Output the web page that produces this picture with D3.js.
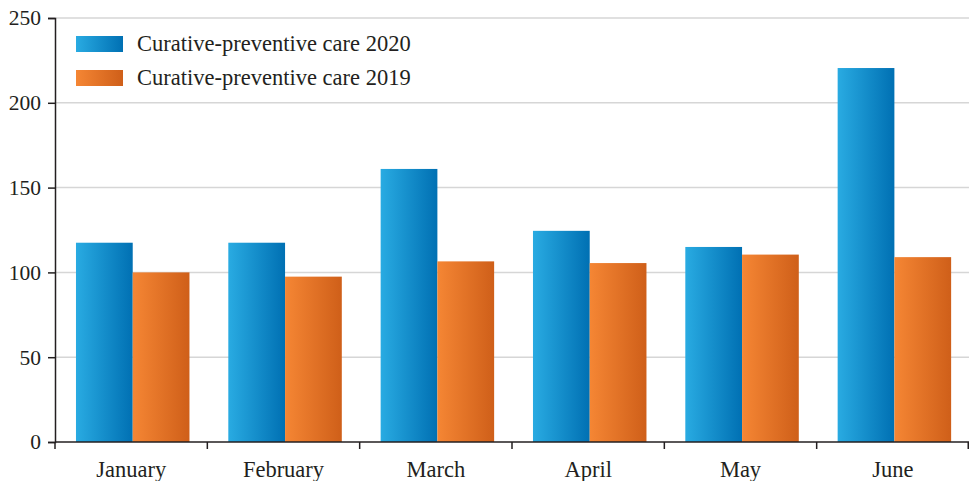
<!DOCTYPE html>
<html>
<head>
<meta charset="utf-8">
<script src="https://cdn.jsdelivr.net/npm/d3@7"></script>
<style>
  html, body { margin: 0; padding: 0; background: #fff; }
  svg { display: block; }
  text { font-family: "Liberation Serif", "DejaVu Serif", serif; fill: #231f20; }
</style>
</head>
<body>
<svg id="chart" width="970" height="481"></svg>
<script>
// Monthly counts, January–June
const months = ["January", "February", "March", "April", "May", "June"];
const care2020 = [117.5, 117.5, 161, 124.5, 115, 220.5];
const care2019 = [100, 97.5, 106.5, 105.5, 110.5, 109];
const seriesNames = ["Curative-preventive care 2020", "Curative-preventive care 2019"];
const yTicks = [0, 50, 100, 150, 200, 250];

const svg = d3.select("#chart");
const margin = { left: 55, right: 1, top: 18, bottom: 39 };
const width = 970, height = 481;
const x0 = margin.left, x1 = width - margin.right;
const yBottom = height - margin.bottom;

const y = d3.scaleLinear().domain([0, 250]).range([yBottom, margin.top]);
const x = d3.scaleBand().domain(months).range([x0, x1]).paddingInner(0.255).paddingOuter(0.1275).align(0.54);
const xs = d3.scaleBand().domain([0, 1]).range([0, x.bandwidth()]);
const step = (x1 - x0) / months.length;

// left-to-right gradients for the two series
const defs = svg.append("defs");
const grads = [
  { id: "gBlue", c0: "#29abe2", c1: "#0070b3" },
  { id: "gOrange", c0: "#f58634", c1: "#cf5f19" }
];
grads.forEach(g => {
  const lg = defs.append("linearGradient").attr("id", g.id)
    .attr("x1", "0%").attr("x2", "100%").attr("y1", "0%").attr("y2", "0%");
  lg.append("stop").attr("offset", "0%").attr("stop-color", g.c0);
  lg.append("stop").attr("offset", "100%").attr("stop-color", g.c1);
});

// gridlines
svg.append("g").selectAll("line").data(yTicks.filter(d => d > 0)).join("line")
  .attr("x1", x0).attr("x2", x1)
  .attr("y1", d => y(d)).attr("y2", d => y(d))
  .attr("stroke", "#d6d6d6").attr("stroke-width", 1.5);

// bars
const rows = months.map((m, i) => ({ m, v: [care2020[i], care2019[i]] }));
const grp = svg.append("g").selectAll("g").data(rows).join("g")
  .attr("transform", d => `translate(${x(d.m)},0)`);
grp.selectAll("rect").data(d => d.v.map((v, k) => ({ v, k }))).join("rect")
  .attr("x", d => xs(d.k))
  .attr("width", xs.bandwidth())
  .attr("y", d => y(d.v))
  .attr("height", d => yBottom - y(d.v))
  .attr("fill", d => `url(#${grads[d.k].id})`);

// y axis
const yAxis = d3.axisLeft(y).tickValues(yTicks).tickSize(7).tickPadding(7);
const gy = svg.append("g").attr("transform", `translate(${x0},0)`).call(yAxis);
gy.select(".domain").attr("stroke", "#231f20").attr("stroke-width", 1.5);
gy.selectAll(".tick line").attr("stroke", "#231f20").attr("stroke-width", 1.5);
gy.selectAll(".tick text").style("font-size", "21.5px")
  .style("font-family", "'Liberation Serif', 'DejaVu Serif', serif").attr("fill", "#231f20");

// x axis: baseline with ticks on the category boundaries
const gx = svg.append("g");
gx.append("line").attr("x1", x0).attr("x2", x1).attr("y1", yBottom).attr("y2", yBottom)
  .attr("stroke", "#231f20").attr("stroke-width", 1.5);
const bounds = d3.range(months.length + 1).map(i => Math.min(x0 + i * step, x1 - 0.75));
gx.selectAll("line.tk").data(bounds).join("line").attr("class", "tk")
  .attr("x1", d => d).attr("x2", d => d).attr("y1", yBottom).attr("y2", yBottom + 7)
  .attr("stroke", "#231f20").attr("stroke-width", 1.5);
gx.selectAll("text").data(months).join("text")
  .attr("x", (d, i) => x0 + (i + 0.5) * step).attr("y", yBottom + 35)
  .attr("text-anchor", "middle").style("font-size", "22.5px").text(d => d);

// legend
const lg = svg.append("g").attr("transform", "translate(76,36)");
seriesNames.forEach((name, k) => {
  const row = lg.append("g").attr("transform", `translate(0,${k * 34})`);
  row.append("rect").attr("width", 47).attr("height", 16).attr("fill", `url(#${grads[k].id})`);
  row.append("text").attr("x", 61).attr("y", 15).style("font-size", "22.5px").text(name);
});
</script>
</body>
</html>
